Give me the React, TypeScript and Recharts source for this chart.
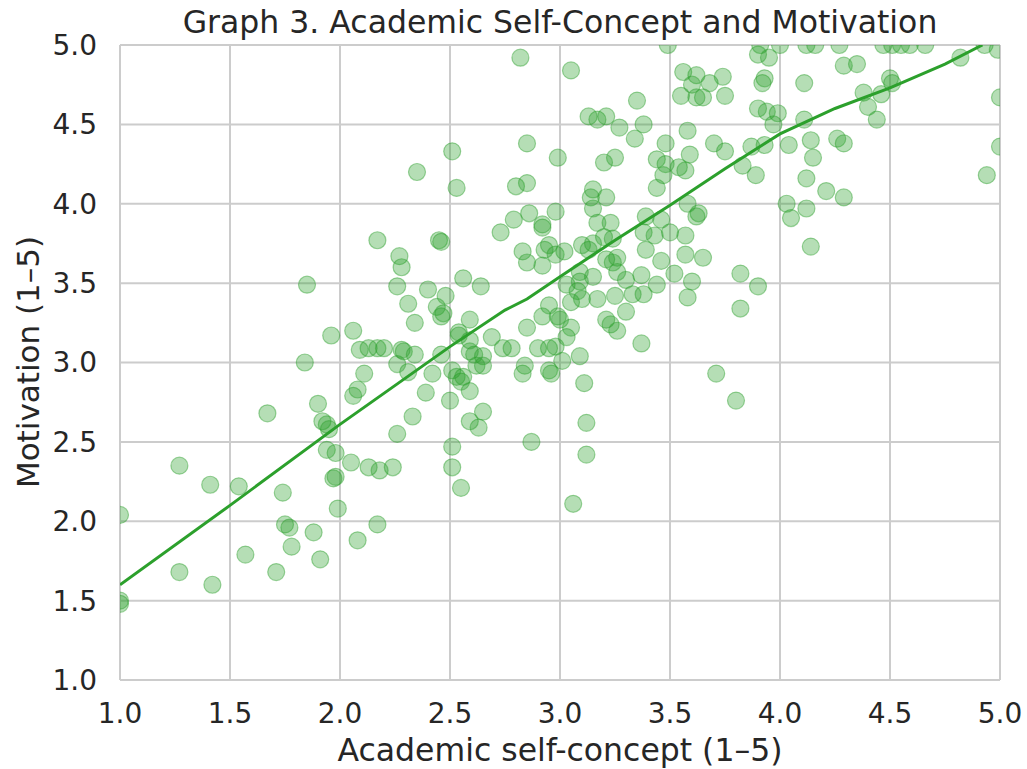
import React from "react";
import { ScatterChart, Scatter, XAxis, YAxis, CartesianGrid } from "recharts";

// [self-concept, motivation] per student
const studentPoints: [number, number][] = [
  [1.0, 2.04], [1.0, 1.5], [1.0, 1.48], [1.27, 2.35], [1.27, 1.68], [1.41, 2.23], [1.42, 1.6],
  [1.54, 2.22], [1.57, 1.79], [1.67, 2.68], [1.71, 1.68], [1.74, 2.18], [1.75, 1.98], [1.77, 1.96],
  [1.78, 1.84], [1.85, 3.49], [1.84, 3.0], [1.88, 1.93], [1.9, 2.74], [1.91, 1.76], [1.92, 2.63],
  [1.94, 2.61], [1.95, 2.58], [1.94, 2.45], [1.98, 2.43], [1.98, 2.28], [1.97, 2.27], [1.99, 2.08],
  [1.96, 3.17],
  [2.05, 2.37], [2.13, 2.34], [2.18, 2.32], [2.24, 2.34], [2.17, 1.98], [2.08, 1.88], [2.06, 3.2],
  [2.08, 2.83], [2.06, 2.79], [2.09, 3.08], [2.13, 3.09], [2.17, 3.09], [2.2, 3.09], [2.11, 2.93],
  [2.26, 2.99], [2.28, 3.08], [2.29, 3.07], [2.31, 2.94], [2.34, 3.05], [2.33, 2.66], [2.26, 2.55],
  [2.26, 3.48], [2.31, 3.37], [2.34, 3.25], [2.4, 3.46], [2.17, 3.77], [2.27, 3.67], [2.28, 3.6],
  [2.35, 4.2], [2.45, 3.77], [2.46, 3.76], [2.48, 3.42], [2.44, 3.35], [2.46, 3.29], [2.47, 3.31],
  [2.42, 2.93], [2.46, 3.05], [2.39, 2.81], [2.5, 2.76], [2.51, 2.95], [2.53, 2.91], [2.55, 2.88],
  [2.56, 2.91], [2.59, 2.82], [2.59, 3.07], [2.61, 3.05], [2.62, 2.98], [2.54, 3.19], [2.54, 3.17],
  [2.59, 3.14], [2.56, 3.53], [2.64, 3.48], [2.59, 3.27], [2.51, 4.33], [2.53, 4.1], [2.51, 2.47],
  [2.51, 2.34], [2.55, 2.21], [2.65, 2.69], [2.59, 2.63], [2.63, 2.59],
  [2.69, 3.16], [2.74, 3.09], [2.78, 3.09], [2.65, 3.04], [2.65, 2.98], [2.85, 3.22], [2.84, 2.98],
  [2.83, 2.93], [2.87, 2.5], [2.9, 3.09], [2.95, 3.09], [2.98, 3.1], [2.95, 2.95], [2.96, 2.93],
  [2.92, 3.29], [2.95, 3.36], [2.99, 3.29], [3.0, 3.27], [3.05, 3.22], [3.03, 3.16], [3.01, 3.01],
  [3.09, 3.04], [3.11, 2.87], [3.12, 2.62], [3.12, 2.42], [3.06, 2.11], [2.73, 3.82], [2.79, 3.9],
  [2.86, 3.94], [2.8, 4.11], [2.85, 4.13], [2.85, 4.38], [2.82, 4.92], [2.92, 3.87], [2.92, 3.85],
  [2.98, 3.95], [2.99, 4.29], [2.83, 3.7], [2.85, 3.63], [2.92, 3.61], [2.93, 3.71], [2.95, 3.74],
  [2.98, 3.68], [3.02, 3.7], [3.05, 4.84],
  [3.03, 3.49], [3.09, 3.57], [3.09, 3.51], [3.08, 3.45], [3.15, 3.54], [3.1, 3.74], [3.13, 3.71],
  [3.15, 3.75], [3.2, 3.79], [3.24, 3.78], [3.21, 3.65], [3.24, 3.63], [3.26, 3.66], [3.26, 3.57],
  [3.05, 3.38], [3.1, 3.4], [3.17, 3.4], [3.25, 3.42], [3.33, 3.43], [3.38, 3.43], [3.3, 3.32],
  [3.21, 3.27], [3.23, 3.24], [3.26, 3.2], [3.37, 3.12], [3.3, 3.52], [3.37, 3.55], [3.44, 3.49],
  [3.38, 3.82], [3.43, 3.8], [3.5, 3.82], [3.57, 3.8], [3.39, 3.71], [3.46, 3.64], [3.57, 3.68],
  [3.65, 3.66], [3.52, 3.56], [3.6, 3.51], [3.58, 3.41], [3.15, 4.09], [3.14, 4.04], [3.15, 3.97],
  [3.21, 4.04], [3.17, 3.88], [3.23, 3.88], [3.39, 3.92], [3.46, 3.9], [3.58, 4.0], [3.63, 3.94],
  [3.62, 3.92], [3.13, 4.55], [3.17, 4.53], [3.21, 4.55], [3.27, 4.48], [3.38, 4.5], [3.34, 4.41],
  [3.35, 4.65], [3.2, 4.26], [3.25, 4.29], [3.44, 4.28], [3.48, 4.25], [3.47, 4.18], [3.44, 4.1],
  [3.54, 4.23], [3.57, 4.21], [3.59, 4.31], [3.48, 4.38], [3.58, 4.46], [3.49, 5.0], [3.56, 4.83],
  [3.62, 4.81], [3.6, 4.75], [3.62, 4.67], [3.55, 4.68], [3.65, 4.67], [3.68, 4.76], [3.74, 4.8],
  [3.75, 4.68], [3.7, 4.38], [3.75, 4.33],
  [3.82, 3.56], [3.9, 3.48], [3.82, 3.34], [3.71, 2.93], [3.8, 2.76], [4.14, 3.73], [3.83, 4.24],
  [3.89, 4.18], [3.87, 4.36], [3.93, 4.37], [3.9, 4.6], [3.94, 4.58], [3.99, 4.57], [3.97, 4.5],
  [3.93, 4.79], [3.92, 4.76], [3.9, 4.94], [3.95, 4.92], [3.91, 5.0], [4.0, 5.0], [4.12, 5.0],
  [4.16, 5.0], [4.27, 5.0], [4.29, 4.87], [4.35, 4.88], [4.11, 4.76], [4.11, 4.53], [4.04, 4.37],
  [4.14, 4.4], [4.15, 4.29], [4.26, 4.41], [4.29, 4.38], [4.12, 4.16], [4.21, 4.08], [4.29, 4.04],
  [4.03, 4.0], [4.05, 3.91], [4.12, 3.97], [4.5, 4.79], [4.51, 4.76], [4.46, 4.69], [4.38, 4.7],
  [4.4, 4.61], [4.44, 4.53], [4.47, 5.0], [4.51, 5.0], [4.55, 5.0], [4.59, 5.0], [4.66, 5.0],
  [4.82, 4.92], [4.93, 5.0], [4.99, 4.97], [5.0, 4.67], [5.0, 4.36], [4.94, 4.18],
];

// smoothed trend line
const trendX = [1.0, 1.5, 2.0, 2.5, 2.75, 2.85, 3.0, 3.25, 3.5, 3.75, 4.0, 4.25, 4.5, 4.75, 4.92];
const trendY = [1.6, 2.1, 2.61, 3.1, 3.33, 3.4, 3.54, 3.77, 3.99, 4.22, 4.44, 4.6, 4.73, 4.88, 5.0];

const axisTicks = [1.0, 1.5, 2.0, 2.5, 3.0, 3.5, 4.0, 4.5, 5.0];

const pointData = studentPoints.map(([x, y]) => ({ x, y }));
const trendData = trendX.map((x, i) => ({ x, y: trendY[i] }));

const GREEN = "#2ca02c";
const TEXT = "#262626";
const FONT = "DejaVu Sans";

const Dot = (props: any) => (
  <circle
    cx={props.cx}
    cy={props.cy}
    r={8.5}
    fill={GREEN}
    fillOpacity={0.35}
    stroke={GREEN}
    strokeOpacity={0.45}
    strokeWidth={1.2}
  />
);

const NoDot = () => <g />;

export default function App() {
  const tickStyle = { fontSize: 28, fill: TEXT, fontFamily: FONT };
  return (
    <div style={{ position: "absolute", left: 0, top: 0, width: 1027, height: 769, background: "#fff" }}>
      <ScatterChart width={1027} height={769} margin={{ top: 45, right: 27, bottom: 0, left: 0 }}>
        <CartesianGrid stroke="#cccccc" strokeWidth={2} />
        <XAxis
          type="number"
          dataKey="x"
          domain={[1, 5]}
          ticks={axisTicks}
          interval={0}
          allowDataOverflow
          height={89}
          axisLine={false}
          tickLine={false}
          tickSize={5}
          tickMargin={18}
          tick={tickStyle}
          tickFormatter={(v: number) => v.toFixed(1)}
        />
        <YAxis
          type="number"
          dataKey="y"
          domain={[1, 5]}
          ticks={axisTicks}
          interval={0}
          allowDataOverflow
          width={120}
          axisLine={false}
          tickLine={false}
          tickSize={6}
          tickMargin={17}
          tick={tickStyle}
          tickFormatter={(v: number) => v.toFixed(1)}
        />
        <Scatter data={pointData} shape={Dot} isAnimationActive={false} />
        <Scatter
          data={trendData}
          shape={NoDot}
          line={{ stroke: GREEN, strokeWidth: 3 }}
          lineType="joint"
          isAnimationActive={false}
        />
      </ScatterChart>
      <svg
        width={1027}
        height={769}
        style={{ position: "absolute", left: 0, top: 0, pointerEvents: "none" }}
      >
        <text x={560} y={33} textAnchor="middle" fontSize={31.5} fill={TEXT} fontFamily={FONT}>
          Graph 3. Academic Self-Concept and Motivation
        </text>
        <text x={560} y={761} textAnchor="middle" fontSize={31.5} fill={TEXT} fontFamily={FONT}>
          Academic self-concept (1–5)
        </text>
        <text
          transform="translate(39,362) rotate(-90)"
          textAnchor="middle"
          fontSize={31}
          fill={TEXT}
          fontFamily={FONT}
        >
          Motivation (1–5)
        </text>
      </svg>
    </div>
  );
}
